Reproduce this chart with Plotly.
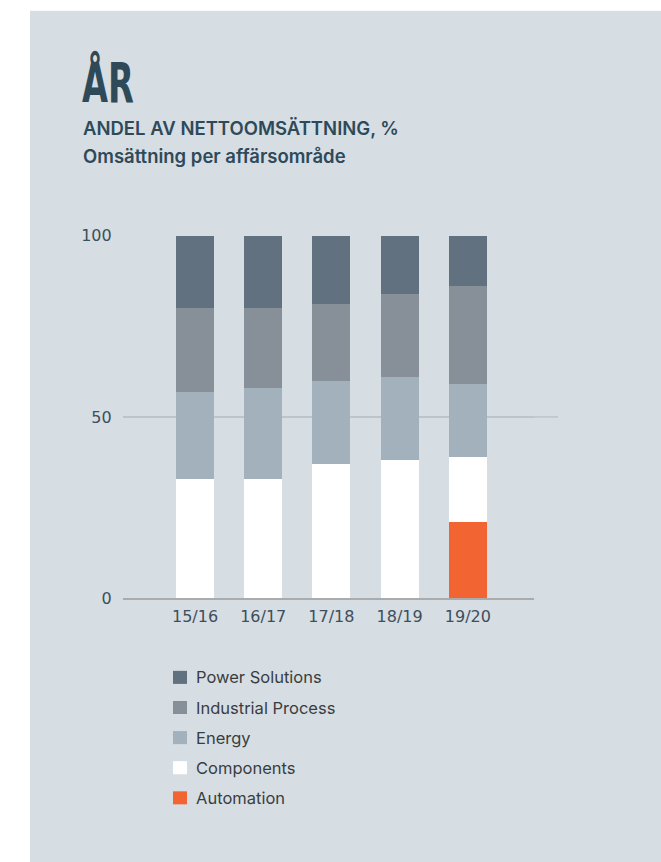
import plotly.graph_objects as go

W, H = 661, 884
SY, OY = 0.975, 10.3  # observed vertical mapping of the captured page: shown_y = SY * fig_y + OY

years = ["15/16", "16/17", "17/18", "18/19", "19/20"]
series_names = ["Automation", "Components", "Energy", "Industrial Process", "Power Solutions"]
automation = [None, None, None, None, 21]
components = [33, 33, 37, 38, 18]
energy = [24, 25, 23, 23, 20]
industrial = [23, 22, 21, 23, 27]
power = [20, 20, 19, 16, 14]
y_ticks = [0, 50, 100]

series_values = [automation, components, energy, industrial, power]
colors = ["#f26532", "#ffffff", "#a3b1bc", "#879099", "#617180"]

title_text = "ÅR"
subtitle1 = "ANDEL AV NETTOOMSÄTTNING, %"
subtitle2 = "Omsättning per affärsområde"

PANEL = "#d6dde3"
DARK = "#2e4a59"
TICK = "#3d4f5c"
FONT = "Inter, Liberation Sans, Arial, sans-serif"
TICKFONT = "DejaVu Sans, sans-serif"

fig = go.Figure()
for name, vals, col in zip(series_names, series_values, colors):
    fig.add_trace(go.Bar(x=years, y=vals, name=name, marker=dict(color=col, line=dict(width=0)),
                         showlegend=False, hoverinfo="x+y+name"))

def px(x):
    return x / W

def py(y):
    return 1 - ((y - OY) / SY) / H

shapes = []
annotations = []
# light panel behind the chart
shapes.append(dict(type="rect", xref="paper", yref="paper", x0=px(30), x1=1.0, y0=0, y1=py(12),
                   fillcolor=PANEL, line=dict(width=0), layer="below"))
# the 50 gridline runs a little past the plot area
shapes.append(dict(type="line", xref="paper", yref="y", x0=px(534), x1=px(558), y0=50, y1=50,
                   line=dict(color="#bfc4c9", width=1.5), layer="below"))

annotations.append(dict(text="<b>" + title_text + "</b>", xref="paper", yref="paper", x=px(80), y=py(84),
                        xanchor="left", yanchor="middle", showarrow=False,
                        font=dict(family="DejaVu Sans, sans-serif", size=56, color=DARK)))
annotations.append(dict(text=subtitle1, xref="paper", yref="paper", x=px(81), y=py(128.7),
                        xanchor="left", yanchor="middle", showarrow=False,
                        font=dict(family=FONT, size=18.5, weight=600, color=DARK)))
annotations.append(dict(text=subtitle2, xref="paper", yref="paper", x=px(81), y=py(156.3),
                        xanchor="left", yanchor="middle", showarrow=False,
                        font=dict(family=FONT, size=18.5, weight=600, color=DARK)))

# legend, top to bottom in reverse stacking order
leg_y0 = 676.3
for i, (name, col) in enumerate(zip(series_names[::-1], colors[::-1])):
    yc = leg_y0 + 30 * i
    shapes.append(dict(type="rect", xref="paper", yref="paper", x0=px(173), x1=px(187),
                       y0=py(yc + 6.5), y1=py(yc - 6.5), fillcolor=col, line=dict(width=0)))
    annotations.append(dict(text=name, xref="paper", yref="paper", x=px(194), y=py(yc),
                            xanchor="left", yanchor="middle", showarrow=False,
                            font=dict(family=FONT, size=16.5, color="#3a3d40")))

fig.update_layout(
    width=W, height=H,
    margin=dict(l=0, r=0, t=0, b=0),
    paper_bgcolor="#ffffff",
    plot_bgcolor="rgba(0,0,0,0)",
    barmode="stack",
    bargap=0.443,
    shapes=shapes,
    annotations=annotations,
    font=dict(family=FONT, color=TICK),
    xaxis=dict(domain=[px(122.7), px(534)], range=[-1.06, 4.97], showgrid=False, zeroline=False,
               showline=True, linecolor="#a9abad", linewidth=2, ticks="", ticklabelstandoff=2,
               tickfont=dict(family=TICKFONT, size=16, color=TICK), fixedrange=True),
    yaxis=dict(domain=[py(597.5), py(236)], range=[0, 100], tickvals=y_ticks, showgrid=True,
               gridcolor="#bfc4c9", gridwidth=1.5, zeroline=False, showline=False, ticks="",
               ticklabelstandoff=10, tickfont=dict(family=TICKFONT, size=16, color=TICK), fixedrange=True),
)

# condense the big title horizontally (text stays real text)
post = """
var gd = document.getElementById('{plot_id}');
gd.querySelectorAll('.annotation-text').forEach(function(t){
  if (t.textContent.trim() === 'ÅR') {
    var b = t.getBBox();
    var x0 = b.x;
    t.setAttribute('transform', 'translate(' + x0 + ',0) scale(0.6,1) translate(' + (-x0) + ',0)');
  }
});
"""
fig.write_html("out.html", post_script=post)
